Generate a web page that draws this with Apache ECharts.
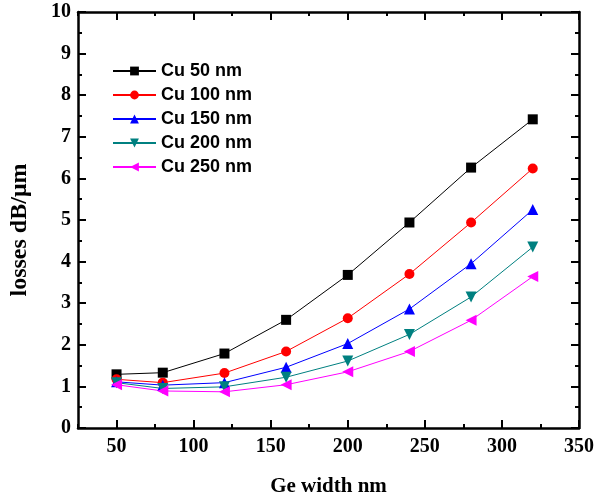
<!DOCTYPE html>
<html>
<head>
<meta charset="utf-8">
<script src="https://cdn.jsdelivr.net/npm/echarts@6/dist/echarts.min.js"></script>
<style>
html,body{margin:0;padding:0;background:#fff;}
#c{width:597px;height:502px;}
</style>
</head>
<body>
<div id="c"></div>
<script>
var geWidth = [50, 80, 120, 160, 200, 240, 280, 320];
var cu50  = [1.29, 1.33, 1.79, 2.60, 3.68, 4.94, 6.26, 7.42];
var cu100 = [1.17, 1.09, 1.32, 1.84, 2.64, 3.70, 4.94, 6.24];
var cu150 = [1.11, 1.03, 1.09, 1.46, 2.03, 2.86, 3.95, 5.25];
var cu200 = [1.09, 0.95, 0.99, 1.22, 1.61, 2.25, 3.15, 4.35];
var cu250 = [1.04, 0.89, 0.87, 1.04, 1.35, 1.84, 2.59, 3.64];
var seriesNames = ['Cu 50 nm', 'Cu 100 nm', 'Cu 150 nm', 'Cu 200 nm', 'Cu 250 nm'];
var xTickLabels = [50, 100, 150, 200, 250, 300, 350];

var values = [cu50, cu100, cu150, cu200, cu250];
var colors = ['#000000', '#ff0000', '#0000ff', '#008080', '#ff00ff'];
var symbols = ['rect', 'circle', 'triangle', 'triangle', 'triangle'];
var rotates = [0, 0, 0, 180, 90];
var sizes = [10, 10, 11, 11, 11];

function pairs(ys) { return geWidth.map(function (x, i) { return [x, ys[i]]; }); }

var serif = 'Liberation Serif';
var series = seriesNames.map(function (n, i) {
  return {
    name: n, type: 'line', data: pairs(values[i]),
    xAxisIndex: 0, yAxisIndex: 0,
    symbol: symbols[i], symbolSize: sizes[i], symbolRotate: rotates[i],
    itemStyle: { color: colors[i] },
    lineStyle: { color: colors[i], width: 1 },
    emphasis: { disabled: true }, animation: false
  };
});

function xAx(pos, major, labels) {
  var a = {
    type: 'value', position: pos, min: 25, max: 350, interval: 25,
    splitLine: { show: false },
    axisLine: { show: !major, onZero: false, lineStyle: { color: '#000', width: 2.5 } },
    axisTick: { show: true, inside: true, length: major ? 8 : 4, lineStyle: { color: '#000', width: 2 } },
    axisLabel: { show: false }
  };
  if (major) a.axisTick.customValues = xTickLabels;
  if (labels) {
    a.axisLabel = { show: true, customValues: xTickLabels, margin: 9,
      fontFamily: serif, fontWeight: 'bold', fontSize: 20, color: '#000' };
    a.name = 'Ge width nm';
    a.nameLocation = 'middle';
    a.nameGap = 48;
    a.nameTextStyle = { fontFamily: serif, fontWeight: 'bold', fontSize: 21, color: '#000' };
  }
  return a;
}
function yAx(pos, labels) {
  var a = {
    type: 'value', position: pos, min: 0, max: 10, interval: 1,
    splitLine: { show: false },
    axisLine: { show: true, onZero: false, lineStyle: { color: '#000', width: 2.5 } },
    axisTick: { show: true, inside: true, length: 8, lineStyle: { color: '#000', width: 2 } },
    minorTick: { show: true, splitNumber: 2, length: 4, lineStyle: { color: '#000', width: 2 } },
    axisLabel: { show: false }
  };
  if (labels) {
    a.axisLabel = { show: true, margin: 7, fontFamily: serif, fontWeight: 'bold', fontSize: 20, color: '#000' };
    a.name = 'losses dB/μm';
    a.nameLocation = 'middle';
    a.nameGap = 46;
    a.nameTextStyle = { fontFamily: serif, fontWeight: 'bold', fontSize: 24, color: '#000', padding: [0, 20, 0, 0] };
  }
  return a;
}

var chart = echarts.init(document.getElementById('c'), null, { renderer: 'canvas' });
chart.setOption({
  animation: false,
  backgroundColor: '#fff',
  grid: { left: 77, right: 17, top: 12, bottom: 73, containLabel: false },
  xAxis: [xAx('bottom', false, true), xAx('bottom', true, false), xAx('top', false, false), xAx('top', true, false)],
  yAxis: [yAx('left', true), yAx('right', false)],
  legend: {
    orient: 'vertical', left: 107, top: 57, itemWidth: 43, itemHeight: 11, itemGap: 6,
    data: seriesNames,
    textStyle: { fontFamily: 'Liberation Sans', fontWeight: 'bold', fontSize: 18, color: '#000' }
  },
  series: series
});
</script>
</body>
</html>
